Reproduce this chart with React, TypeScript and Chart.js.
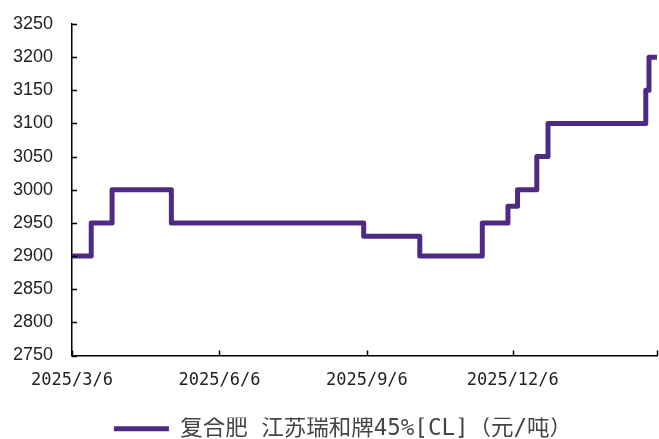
import React, { useEffect, useRef } from "react";
import { Chart, registerables } from "chart.js";

Chart.register(...registerables);

// Change dates and the price from that date onward (元/吨)
const changeDates = [
  "2025-03-06", "2025-03-18", "2025-03-31", "2025-05-07", "2025-09-04",
  "2025-10-09", "2025-11-17", "2025-12-03", "2025-12-09", "2025-12-21",
  "2025-12-28", "2026-02-27", "2026-03-01", "2026-03-06",
];
const prices = [
  2900, 2950, 3000, 2950, 2930,
  2900, 2950, 2975, 3000, 3050,
  3100, 3150, 3200, 3200,
];

const tickDates = ["2025-03-06", "2025-06-06", "2025-09-06", "2025-12-06", "2026-03-06"];
const tickLabels = ["2025/3/6", "2025/6/6", "2025/9/6", "2025/12/6", ""];

const yMin = 2750;
const yMax = 3250;
const yStep = 50;

const seriesLabel = "复合肥 江苏瑞和牌45%[CL]（元/吨）";

const START = Date.UTC(2025, 2, 6);
const toDay = (s: string) => {
  const [y, m, d] = s.split("-").map(Number);
  return Math.round((Date.UTC(y, m - 1, d) - START) / 86400000);
};

const inwardTicks = {
  id: "inwardTicks",
  afterLayout(chart: any) {
    if (chart.legend) {
      chart.legend.left += 8;
      chart.legend.right += 8;
    }
  },
  afterDraw(chart: any) {
    const ctx = chart.ctx;
    const xs = chart.scales.x;
    const ys = chart.scales.y;
    const area = chart.chartArea;
    ctx.save();
    ctx.strokeStyle = "#000";
    ctx.lineWidth = 1.5;
    ctx.beginPath();
    xs.ticks.forEach((t: any) => {
      const px = Math.round(xs.getPixelForValue(t.value)) + 0.5;
      ctx.moveTo(px, area.bottom);
      ctx.lineTo(px, area.bottom - 5);
    });
    ys.ticks.forEach((t: any) => {
      const py = Math.round(ys.getPixelForValue(t.value)) + 0.5;
      ctx.moveTo(area.left, py);
      ctx.lineTo(area.left + 5, py);
    });
    ctx.stroke();
    ctx.restore();
  },
};

export default function App() {
  const ref = useRef<HTMLCanvasElement | null>(null);

  useEffect(() => {
    if (!ref.current) return;
    const tickDays = tickDates.map(toDay);
    const data = changeDates.map((d, i) => ({ x: toDay(d), y: prices[i] }));
    const chart = new Chart(ref.current, {
      type: "line",
      data: {
        datasets: [
          {
            label: seriesLabel,
            data,
            borderColor: "#4e2a84",
            backgroundColor: "#4e2a84",
            borderWidth: 5,
            borderCapStyle: "round",
            borderJoinStyle: "round",
            pointRadius: 0,
            stepped: "before",
            fill: false,
          } as any,
        ],
      },
      options: {
        animation: false,
        responsive: false,
        devicePixelRatio: 1,
        layout: { padding: { left: 13, right: 2, top: 24, bottom: -11 } },
        scales: {
          x: {
            type: "linear",
            min: tickDays[0],
            max: tickDays[tickDays.length - 1],
            afterBuildTicks: (scale: any) => {
              scale.ticks = tickDays.map((v) => ({ value: v }));
            },
            afterFit: (scale: any) => {
              scale.height = 62;
              scale.paddingLeft = 0;
              scale.paddingRight = 0;
            },
            grid: { display: false, drawTicks: false },
            border: { display: true, color: "#000", width: 1.5 },
            ticks: {
              autoSkip: false,
              maxRotation: 0,
              padding: 15,
              color: "#222",
              font: { family: "'DejaVu Sans Mono'", size: 17 },
              callback: (value: any) => {
                const i = tickDays.indexOf(Number(value));
                return i >= 0 ? tickLabels[i] : "";
              },
            },
          },
          y: {
            min: yMin,
            max: yMax,
            afterFit: (scale: any) => {
              scale.width = 59;
              scale.paddingTop = 0;
              scale.paddingBottom = 0;
            },
            grid: { display: false, drawTicks: false },
            border: { display: true, color: "#000", width: 1.5 },
            ticks: {
              stepSize: yStep,
              padding: 19,
              color: "#222",
              font: { family: "'Liberation Sans'", size: 18 },
              callback: (value: any) => String(value),
            },
          },
        },
        plugins: {
          legend: {
            position: "bottom",
            labels: {
              usePointStyle: true,
              pointStyle: "line",
              pointStyleWidth: 55,
              boxHeight: 5,
              padding: 0,
              color: "#444",
              font: { family: "'DejaVu Sans Mono', 'Noto Sans CJK SC'", size: 22.5 },
            },
          },
          tooltip: { enabled: false },
        },
      },
      plugins: [inwardTicks],
    });
    return () => chart.destroy();
  }, []);

  return (
    <canvas
      ref={ref}
      width={659}
      height={439}
      style={{ position: "absolute", left: 0, top: 0, width: 659, height: 439, display: "block" }}
    />
  );
}
